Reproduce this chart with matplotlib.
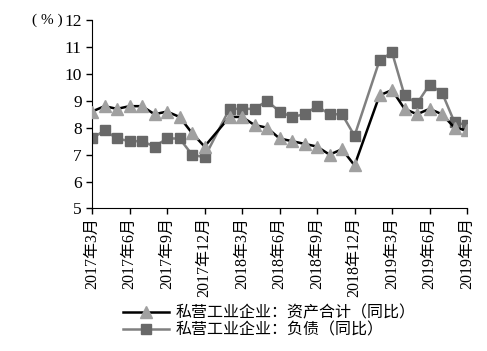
import matplotlib
matplotlib.use("Agg")
import matplotlib.pyplot as plt

plt.rcParams['font.family'] = ['Liberation Serif', 'Noto Sans CJK SC']

# month index: 0 = 2017年3月 ... 30 = 2019年9月 (no January data)
months = [0, 1, 2, 3, 4, 5, 6, 7, 8, 9,
          11, 12, 13, 14, 15, 16, 17, 18, 19, 20, 21,
          23, 24, 25, 26, 27, 28, 29, 30]
assets = [8.6, 8.8, 8.7, 8.8, 8.8, 8.5, 8.6, 8.4, 7.8, 7.3,
          8.4, 8.4, 8.1, 8.0, 7.6, 7.5, 7.4, 7.3, 7.0, 7.2, 6.6,
          9.2, 9.4, 8.7, 8.5, 8.7, 8.5, 8.0, 7.9]
debts = [7.6, 7.9, 7.6, 7.5, 7.5, 7.3, 7.6, 7.6, 7.0, 6.9,
         8.7, 8.7, 8.7, 9.0, 8.6, 8.4, 8.5, 8.8, 8.5, 8.5, 7.7,
         10.5, 10.8, 9.2, 8.9, 9.6, 9.3, 8.2, 8.1]
tick_pos = [0, 3, 6, 9, 12, 15, 18, 21, 24, 27, 30]
tick_labels = ['2017年3月', '2017年6月', '2017年9月', '2017年12月',
               '2018年3月', '2018年6月', '2018年9月', '2018年12月',
               '2019年3月', '2019年6月', '2019年9月']
name_assets = '私营工业企业：资产合计（同比）'
name_debts = '私营工业企业：负债（同比）'

fig = plt.figure(figsize=(4.87, 3.51), dpi=100)
ax = fig.add_axes([0.189, 0.406, 0.770, 0.537])

ax.plot(months, assets, color='black', lw=1.8, marker='^', ms=8,
        mfc='#a0a0a0', mec='#a0a0a0', label=name_assets, zorder=3)
ax.plot(months, debts, color='#808080', lw=1.8, marker='s', ms=7.5,
        mfc='#686868', mec='#686868', label=name_debts, zorder=2)

ax.set_xlim(0, 30)
ax.set_ylim(5, 12)
ax.set_yticks(range(5, 13))
ax.set_xticks(tick_pos)
ax.set_xticklabels(tick_labels, rotation=90, fontsize=11.5)
ax.tick_params(axis='y', labelsize=12.5, length=4, width=1, direction='out')
ax.tick_params(axis='x', length=4, width=1, direction='out', pad=2)
for s in ['top', 'right']:
    ax.spines[s].set_visible(False)

fig.text(0.128, 0.943, '( % )', fontsize=11, ha='right', va='center')

fig.legend(loc='upper left', bbox_to_anchor=(0.252, 0.13), frameon=False,
           fontsize=11.5, handlelength=2.9, handletextpad=0.4, labelspacing=0.1,
           borderpad=0, borderaxespad=0)

fig.savefig('out.png', dpi=100)
